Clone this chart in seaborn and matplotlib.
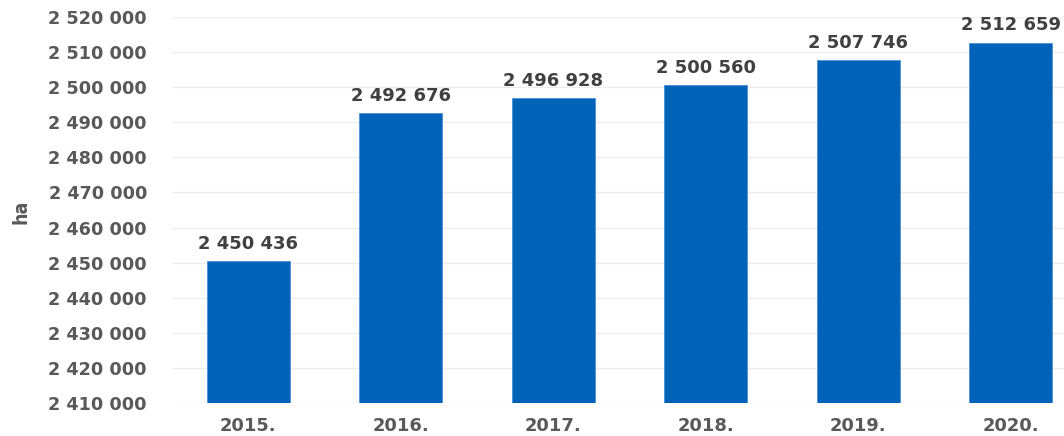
import matplotlib
matplotlib.use("Agg")
import matplotlib.pyplot as plt
from matplotlib.ticker import FuncFormatter
import seaborn as sns
import pandas as pd

# Utilised agricultural area by year, hectares
years = ["2015.", "2016.", "2017.", "2018.", "2019.", "2020."]
area_ha = [2450436, 2492676, 2496928, 2500560, 2507746, 2512659]
y_ticks = list(range(2410000, 2520001, 10000))

BAR_COLOR = "#0063B8"
TICK_COLOR = "#595959"
LABEL_COLOR = "#404040"


def spaced(v, _=None):
    return f"{int(v):,}".replace(",", " ")


sns.set_theme(style="white")
plt.rcParams["font.family"] = ["DejaVu Sans"]

fig = plt.figure(figsize=(10.64, 4.36), dpi=100)
ax = fig.add_axes([172 / 1064, 33 / 436, 915 / 1064, 386 / 436])

df = pd.DataFrame({"year": years, "area": area_ha})
sns.barplot(data=df, x="year", y="area", color=BAR_COLOR, saturation=1,
            width=0.545, edgecolor="#4a90d9", linewidth=0.6, ax=ax, zorder=3)

ax.set_ylim(y_ticks[0], y_ticks[-1])
ax.set_xlim(-0.5, len(years) - 0.5)
ax.set_yticks(y_ticks)
ax.yaxis.set_major_formatter(FuncFormatter(spaced))
ax.grid(axis="y", color="#ECECEC", linewidth=1.0, zorder=0)
ax.grid(axis="x", visible=False)
for s in ax.spines.values():
    s.set_visible(False)

ax.tick_params(axis="y", length=0, pad=18, labelsize=12.7, labelcolor=TICK_COLOR)
ax.tick_params(axis="x", length=0, pad=10, labelsize=12.9, labelcolor=TICK_COLOR)
for lbl in ax.get_yticklabels() + ax.get_xticklabels():
    lbl.set_fontweight("bold")

ax.set_xlabel("")
ax.set_ylabel("")

# value labels above each bar
for i, v in enumerate(area_ha):
    ax.annotate(spaced(v), (i, v), xytext=(0, 6), textcoords="offset points",
                ha="center", va="bottom", fontsize=13, fontweight="bold",
                color=LABEL_COLOR, zorder=4)

fig.text(21 / 1064, 1 - 212 / 436, "ha", rotation=90, ha="center", va="center",
         fontsize=14, color=TICK_COLOR, fontstretch="condensed", fontweight="bold")

fig.savefig("out.png", dpi=100)
